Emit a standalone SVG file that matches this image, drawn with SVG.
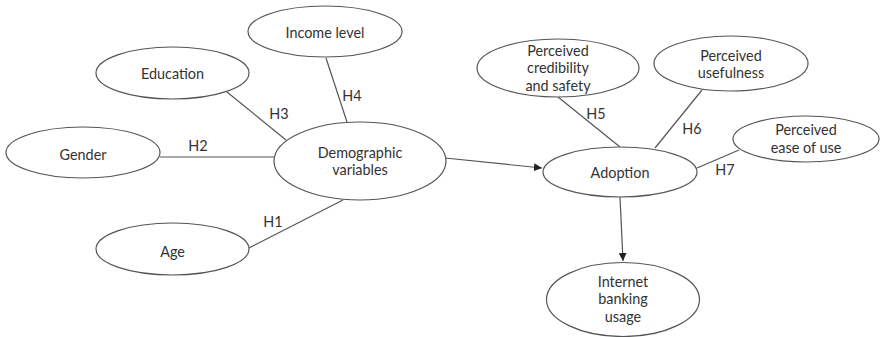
<svg xmlns="http://www.w3.org/2000/svg" width="880" height="337" viewBox="0 0 880 337">
<style>
.n{fill:#fff;stroke:#555;stroke-width:1.2}
.t{font-family:Lato,"Open Sans","Liberation Sans",sans-serif;font-size:14.4px;fill:#333;text-anchor:middle;dominant-baseline:central}
.c{stroke:#555;stroke-width:1.2;fill:none}
</style>
<defs>
<marker id="ah" viewBox="0 0 10 10" refX="10" refY="5" markerWidth="8" markerHeight="8" markerUnits="userSpaceOnUse" orient="auto"><path d="M0,0L10,5L0,10z" fill="#222"/></marker>
</defs>
<rect width="880" height="337" fill="#fff"/>
<g id="connectors">
<line class="c" x1="227" y1="92" x2="286" y2="140"/>
<line class="c" x1="326" y1="58" x2="347" y2="122"/>
<line class="c" x1="160" y1="157" x2="274" y2="157"/>
<line class="c" x1="249" y1="248" x2="343" y2="200"/>
<line class="c" x1="445" y1="158" x2="542" y2="168" marker-end="url(#ah)"/>
<line class="c" x1="620" y1="197" x2="623" y2="261" marker-end="url(#ah)"/>
<line class="c" x1="558" y1="97" x2="620" y2="147"/>
<line class="c" x1="702" y1="90" x2="655" y2="148"/>
<line class="c" x1="697" y1="168" x2="739" y2="150"/>
<text class="t" x="279" y="113">H3</text>
<text class="t" x="352" y="95">H4</text>
<text class="t" x="198" y="145">H2</text>
<text class="t" x="273" y="221">H1</text>
<text class="t" x="596" y="113">H5</text>
<text class="t" x="692" y="128">H6</text>
<text class="t" x="725" y="169">H7</text>
</g>
<g id="income"><ellipse class="n" cx="325" cy="31.5" rx="77" ry="25.5"/><text class="t" x="325" y="32">Income level</text></g>
<g id="education"><ellipse class="n" cx="172.5" cy="73" rx="76.5" ry="26"/><text class="t" x="172.5" y="73">Education</text></g>
<g id="gender"><ellipse class="n" cx="83" cy="152.5" rx="77" ry="25.5"/><text class="t" x="83" y="154">Gender</text></g>
<g id="demographic"><ellipse class="n" cx="360" cy="161" rx="86" ry="39"/><text class="t" x="360" y="152">Demographic</text><text class="t" x="360" y="169.5">variables</text></g>
<g id="age"><ellipse class="n" cx="172.5" cy="249" rx="76.5" ry="26"/><text class="t" x="172.5" y="251">Age</text></g>
<g id="credibility"><ellipse class="n" cx="558" cy="68" rx="81" ry="29"/><text class="t" x="558" y="50">Perceived</text><text class="t" x="558" y="67.5">credibility</text><text class="t" x="558" y="85">and safety</text></g>
<g id="usefulness"><ellipse class="n" cx="731" cy="63.5" rx="77" ry="27.5"/><text class="t" x="731" y="55">Perceived</text><text class="t" x="731" y="72.5">usefulness</text></g>
<g id="ease"><ellipse class="n" cx="806" cy="139" rx="73" ry="23"/><text class="t" x="806" y="129.5">Perceived</text><text class="t" x="806" y="147">ease of use</text></g>
<g id="adoption"><ellipse class="n" cx="620" cy="172" rx="77" ry="25"/><text class="t" x="620" y="172">Adoption</text></g>
<g id="internet"><ellipse class="n" cx="623" cy="299.5" rx="76.5" ry="37"/><text class="t" x="623" y="281">Internet</text><text class="t" x="623" y="298.5">banking</text><text class="t" x="623" y="316">usage</text></g>
</svg>
